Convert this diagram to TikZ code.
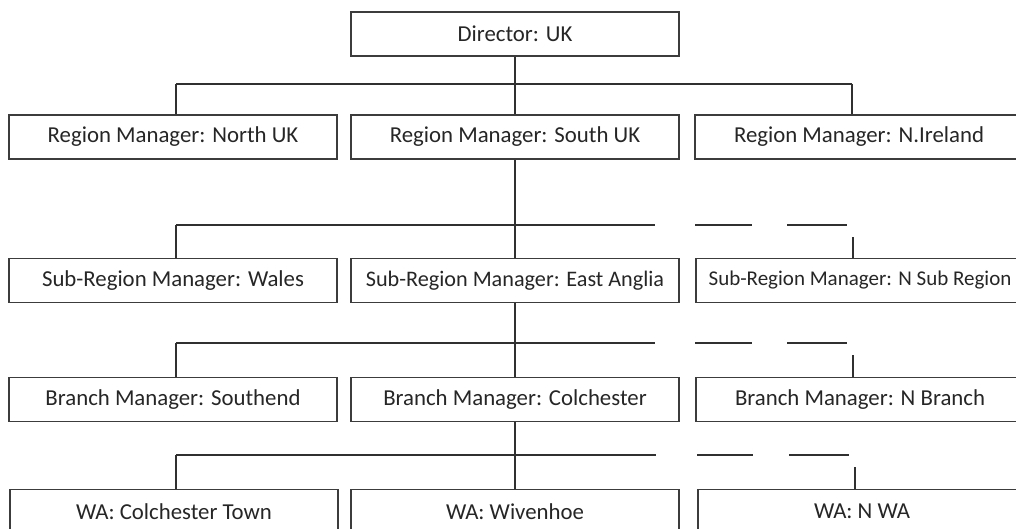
\documentclass[tikz,border=0pt]{standalone}
\usepackage{fontspec}
\setmainfont{Carlito}
\definecolor{linec}{HTML}{303030}
\definecolor{boxc}{HTML}{3C3C3C}
\definecolor{textc}{HTML}{262626}
\begin{document}
\begin{tikzpicture}[x=1pt,y=1pt,
  box/.style={draw=boxc,line width=1.6pt,fill=white,minimum width=328pt,minimum height=44pt,inner sep=0pt,text=textc,font=\fontsize{22.8}{27}\selectfont},
  conn/.style={draw=linec,line width=1.3pt}]
\useasboundingbox (0,0) rectangle (1016,-529);
\begin{scope}
\clip (0,0) rectangle (1016,-529);
% row 0
\node[box] (dir) at (515,-34) {Director: UK};
% row 1
\node[box] (rn) at (173,-137) {Region Manager: North UK};
\node[box] (rs) at (515,-137) {Region Manager: South UK};
\node[box] (ri) at (859,-137) {Region Manager: N.Ireland};
% row 2
\node[box] (sw) at (173,-280.5) {Sub-Region Manager: Wales};
\node[box,font=\fontsize{22.2}{27}\selectfont] (sea) at (515,-280.5) {Sub-Region Manager: East Anglia};
\node[box,font=\fontsize{21}{25}\selectfont] (sns) at (860,-280.5) {Sub-Region Manager: N Sub Region};
% row 3
\node[box] (bs) at (173,-399.5) {Branch Manager: Southend};
\node[box] (bc) at (515,-399.5) {Branch Manager: Colchester};
\node[box] (bn) at (860,-399.5) {Branch Manager: N Branch};
% row 4
\node[box] (wc) at (174,-511.5) {WA: Colchester Town};
\node[box] (ww) at (515,-511.5) {WA: Wivenhoe};
\node[box] (wn) at (862,-511.5) {WA: N WA};
\end{scope}
% level 1 connectors
\coordinate (a1) at (176,-84);
\coordinate (a2) at (852,-84);
\draw[conn] (dir.south) -- (rs.north);
\draw[conn] (a1) -- (a2);
\draw[conn] (a1) -- (a1 |- rn.north);
\draw[conn] (a2) -- (a2 |- ri.north);
% level 2 connectors
\coordinate (b1) at (176,-225);
\coordinate (b2) at (655,-225);
\coordinate (b3) at (695,-225);
\coordinate (b4) at (752,-225);
\coordinate (b5) at (787,-225);
\coordinate (b6) at (847,-225);
\coordinate (b7) at (853,-237);
\draw[conn] (rs.south) -- (sea.north);
\draw[conn] (b1) -- (b2);
\draw[conn] (b3) -- (b4);
\draw[conn] (b5) -- (b6);
\draw[conn] (b1) -- (b1 |- sw.north);
\draw[conn] (b7) -- (b7 |- sns.north);
% level 3 connectors
\coordinate (c1) at (176,-343);
\coordinate (c2) at (655,-343);
\coordinate (c3) at (695,-343);
\coordinate (c4) at (752,-343);
\coordinate (c5) at (787,-343);
\coordinate (c6) at (847,-343);
\coordinate (c7) at (853,-355);
\draw[conn] (sea.south) -- (bc.north);
\draw[conn] (c1) -- (c2);
\draw[conn] (c3) -- (c4);
\draw[conn] (c5) -- (c6);
\draw[conn] (c1) -- (c1 |- bs.north);
\draw[conn] (c7) -- (c7 |- bn.north);
% level 4 connectors
\coordinate (d1) at (176,-455);
\coordinate (d2) at (656,-455);
\coordinate (d3) at (697,-455);
\coordinate (d4) at (753,-455);
\coordinate (d5) at (789,-455);
\coordinate (d6) at (849,-455);
\coordinate (d7) at (855,-467);
\draw[conn] (bc.south) -- (ww.north);
\draw[conn] (d1) -- (d2);
\draw[conn] (d3) -- (d4);
\draw[conn] (d5) -- (d6);
\draw[conn] (d1) -- (d1 |- wc.north);
\draw[conn] (d7) -- (d7 |- wn.north);
\end{tikzpicture}
\end{document}
